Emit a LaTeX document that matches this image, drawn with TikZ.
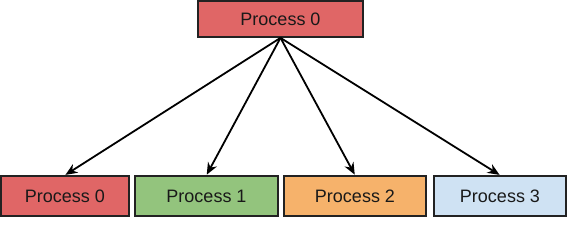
\documentclass[tikz,border=0pt]{standalone}
\usepackage{fontspec}
\setmainfont{Liberation Sans}
\usetikzlibrary{arrows.meta}
\definecolor{pred}{HTML}{E06666}
\definecolor{pgreen}{HTML}{93C47D}
\definecolor{porange}{HTML}{F6B26B}
\definecolor{pblue}{HTML}{CFE2F3}
\definecolor{pline}{HTML}{222222}
\tikzset{
  procbox/.style={draw=pline, line width=1.7pt, inner sep=0pt, font=\fontsize{18}{20}\selectfont, text=black!90},
  conn/.style={line width=1.8pt, -{Stealth[length=12pt,width=10pt]}, shorten >=0.5pt}
}
\begin{document}
\begin{tikzpicture}[x=1pt,y=-1pt]
\useasboundingbox (0,0) rectangle (575,226);
\node[procbox, fill=pred, minimum width=165pt, minimum height=36pt] (top) at (280.5,19) {Process 0};
\node[procbox, fill=pred, minimum width=128pt, minimum height=40pt] (p0) at (65,196) {Process 0};
\node[procbox, fill=pgreen, minimum width=143pt, minimum height=40pt] (p1) at (206.5,196) {Process 1};
\node[procbox, fill=porange, minimum width=142pt, minimum height=40pt] (p2) at (355,196) {Process 2};
\node[procbox, fill=pblue, minimum width=132pt, minimum height=40pt] (p3) at (500,196) {Process 3};
\foreach \t in {p0,p1,p2,p3}{
  \draw[conn] (top.south) -- (\t.north);
}
\end{tikzpicture}
\end{document}
